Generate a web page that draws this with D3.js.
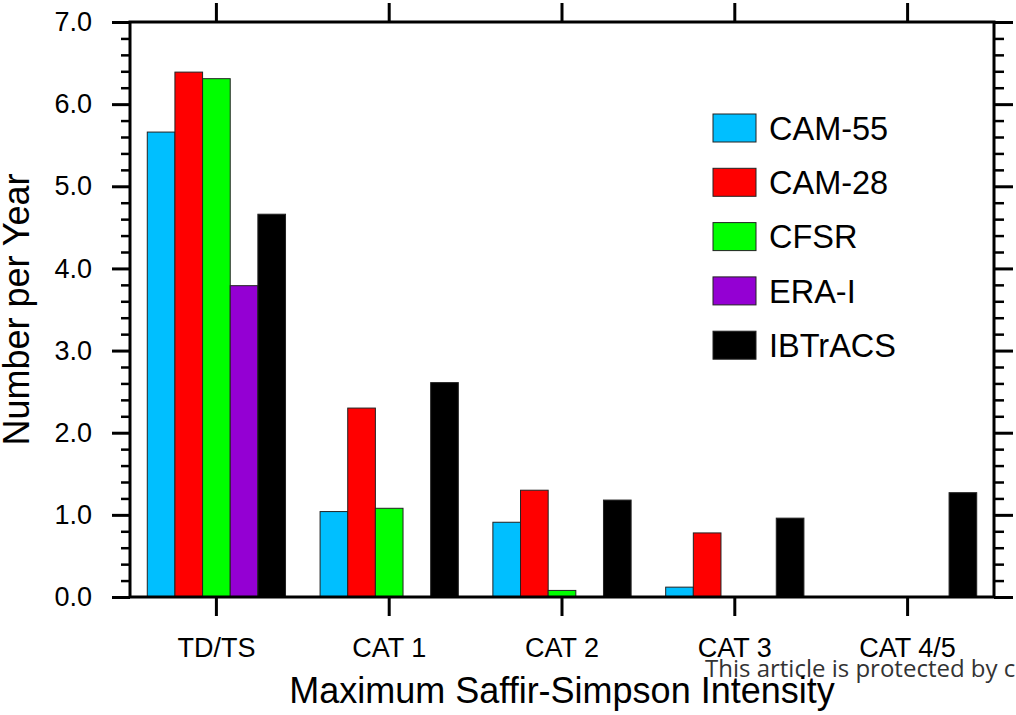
<!DOCTYPE html>
<html>
<head>
<meta charset="utf-8">
<script src="https://cdn.jsdelivr.net/npm/d3@7"></script>
<style>
  body { margin: 0; background: #fff; }
  text { font-family: "Liberation Sans", Arial, Helvetica, sans-serif; }
</style>
</head>
<body>
<div id="chart"></div>
<script>
var categories = ["TD/TS", "CAT 1", "CAT 2", "CAT 3", "CAT 4/5"];
var seriesNames = ["CAM-55", "CAM-28", "CFSR", "ERA-I", "IBTrACS"];
var seriesColors = ["#00bfff", "#ff0000", "#00ff00", "#9400d3", "#000000"];
var cam55 = [5.66, 1.04, 0.91, 0.12, 0];
var cam28 = [6.39, 2.30, 1.30, 0.78, 0];
var cfsr = [6.31, 1.08, 0.08, 0, 0];
var erai = [3.79, 0, 0, 0, 0];
var ibtracs = [4.66, 2.61, 1.18, 0.96, 1.27];
var yTicks = [0, 1, 2, 3, 4, 5, 6, 7];

var seriesValues = [cam55, cam28, cfsr, erai, ibtracs];

var totalWidth = 1016, totalHeight = 715;
var plotLeft = 130, plotRight = 994, plotTop = 22, plotBottom = 597;

var svg = d3.select("#chart").append("svg")
    .attr("width", totalWidth)
    .attr("height", totalHeight);

var x0 = d3.scaleBand().domain(categories).range([plotLeft, plotRight]).padding(0);
var group = x0.bandwidth() * 0.8;
var x1 = d3.scaleBand().domain(seriesNames)
    .range([x0.bandwidth() * 0.1, x0.bandwidth() * 0.1 + group]).padding(0);
var y = d3.scaleLinear().domain([0, 7]).range([plotBottom, plotTop]);

var minorTicks = d3.range(0, 7.01, 0.2).filter(function(v) {
  return Math.abs(v - Math.round(v)) > 0.01;
});

// bars
var bars = [];
categories.forEach(function(c, i) {
  seriesNames.forEach(function(s, j) {
    if (seriesValues[j][i] > 0) bars.push({cat: c, name: s, value: seriesValues[j][i], color: seriesColors[j]});
  });
});

svg.append("g").selectAll("rect")
  .data(bars)
  .enter()
  .append("rect")
    .attr("x", function(d) { return x0(d.cat) + x1(d.name); })
    .attr("y", function(d) { return y(d.value); })
    .attr("width", x1.bandwidth())
    .attr("height", function(d) { return y(0) - y(d.value); })
    .style("fill", function(d) { return d.color; })
    .style("stroke", "#222")
    .style("stroke-width", 1);

function styleAxis(g, w) {
  g.select(".domain").remove();
  g.selectAll(".tick line").attr("stroke", "#000").attr("stroke-width", w);
}

// left major + labels
var yl = svg.append("g").attr("transform", "translate(" + plotLeft + ",0)")
  .call(d3.axisLeft(y).tickValues(yTicks).tickSize(18).tickPadding(20).tickFormat(d3.format(".1f")));
styleAxis(yl, 3);
yl.selectAll("text").style("font-size", "27px").attr("fill", "#000");

var ylm = svg.append("g").attr("transform", "translate(" + plotLeft + ",0)")
  .call(d3.axisLeft(y).tickValues(minorTicks).tickSize(9).tickFormat(""));
styleAxis(ylm, 2.5);

// right mirror
var yr = svg.append("g").attr("transform", "translate(" + plotRight + ",0)")
  .call(d3.axisRight(y).tickValues(yTicks).tickSize(19).tickFormat(""));
styleAxis(yr, 3);
var yrm = svg.append("g").attr("transform", "translate(" + plotRight + ",0)")
  .call(d3.axisRight(y).tickValues(minorTicks).tickSize(10).tickFormat(""));
styleAxis(yrm, 2.5);

// bottom
var xb = svg.append("g").attr("transform", "translate(0," + plotBottom + ")")
  .call(d3.axisBottom(x0).tickSize(19));
styleAxis(xb, 3);
xb.selectAll("text").attr("y", 60).attr("dy", null)
  .style("font-size", "27px").attr("fill", "#000");

// top
var xt = svg.append("g").attr("transform", "translate(0," + plotTop + ")")
  .call(d3.axisTop(x0).tickSize(19).tickFormat(""));
styleAxis(xt, 3);

// frame
svg.append("rect")
  .attr("x", plotLeft).attr("y", plotTop)
  .attr("width", plotRight - plotLeft).attr("height", plotBottom - plotTop)
  .style("fill", "none").style("stroke", "#000").style("stroke-width", 3);

// legend
var legend = svg.append("g").selectAll("g")
  .data(seriesNames)
  .enter()
  .append("g")
    .attr("transform", function(d, i) { return "translate(713," + (114 + i * 54.3) + ")"; });
legend.append("rect")
  .attr("width", 43).attr("height", 28)
  .style("fill", function(d, i) { return seriesColors[i]; })
  .style("stroke", "#222").style("stroke-width", 1);
legend.append("text")
  .attr("x", 56).attr("y", 14).attr("dy", "0.36em")
  .style("font-size", "32.5px")
  .text(function(d) { return d; });

// watermark
svg.append("text")
  .attr("x", 705).attr("y", 677)
  .style("font-family", "'Open Sans', sans-serif")
  .style("font-size", "24px")
  .attr("fill", "#333")
  .text("This article is protected by copyright. All rights reserved.");

// axis titles
svg.append("text")
  .attr("x", (plotLeft + plotRight) / 2).attr("y", 703)
  .attr("text-anchor", "middle")
  .style("font-size", "36px")
  .text("Maximum Saffir-Simpson Intensity");

svg.append("text")
  .attr("transform", "translate(29," + (plotTop + plotBottom) / 2 + ") rotate(-90)")
  .attr("text-anchor", "middle")
  .style("font-size", "36px")
  .text("Number per Year");
</script>
</body>
</html>
